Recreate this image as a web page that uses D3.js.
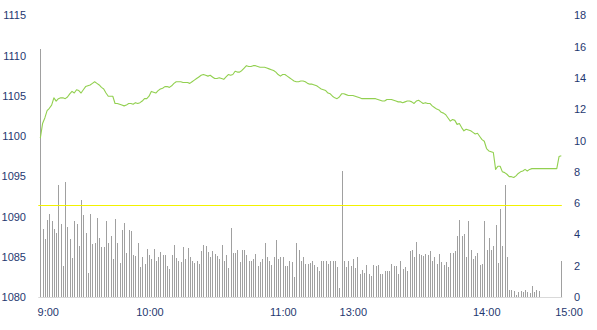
<!DOCTYPE html>
<html>
<head>
<meta charset="utf-8">
<script src="https://cdn.jsdelivr.net/npm/d3@7/dist/d3.min.js"></script>
<style>
  html, body { margin: 0; padding: 0; background: #ffffff; }
  svg { display: block; }
  text { font-family: "Liberation Sans", Arial, sans-serif; font-size: 11px; fill: #1f3870; }
</style>
</head>
<body>
<svg id="chart" width="597" height="330"></svg>
<script>
// ---- Data (one point / bar per minute index) ----
const price = [
1099.7,1101.5,1102.2,1103.1,1103.4,1103.8,1104.7,1104.3,1104.6,1104.7,
1104.7,1104.6,1104.8,1105.2,1105.5,1105.3,1105.7,1105.6,1105.3,1105.7,
1106.1,1106.2,1106.3,1106.5,1106.7,1106.5,1106.3,1106.0,1105.8,1105.3,
1104.9,1104.9,1104.9,1104.0,1104.0,1103.9,1103.8,1103.7,1103.8,1104.0,
1104.0,1103.9,1104.1,1104.0,1104.1,1104.3,1104.6,1104.6,1104.9,1105.5,
1105.4,1105.3,1105.6,1105.8,1105.9,1106.1,1106.1,1106.0,1106.2,1106.5,
1106.7,1106.7,1106.7,1106.6,1106.6,1106.6,1106.5,1106.7,1106.9,1107.1,
1107.3,1107.5,1107.6,1107.5,1107.4,1107.5,1107.3,1107.1,1107.1,1107.2,
1107.1,1107.0,1107.3,1107.6,1107.5,1107.6,1108.0,1107.9,1107.9,1108.1,
1108.4,1108.7,1108.6,1108.6,1108.7,1108.7,1108.6,1108.5,1108.5,1108.5,
1108.4,1108.3,1108.2,1108.1,1107.9,1107.6,1107.4,1107.6,1107.6,1107.4,
1107.2,1107.0,1106.8,1106.7,1106.7,1106.8,1106.8,1106.7,1106.5,1106.4,
1106.4,1106.3,1106.2,1106.0,1105.8,1105.7,1105.6,1105.3,1105.2,1104.9,
1104.7,1104.6,1104.8,1105.2,1105.2,1105.1,1105.0,1105.0,1105.0,1104.9,
1104.8,1104.7,1104.6,1104.6,1104.6,1104.6,1104.6,1104.6,1104.6,1104.5,
1104.4,1104.3,1104.3,1104.5,1104.5,1104.5,1104.4,1104.3,1104.2,1104.2,
1104.1,1104.2,1104.3,1104.3,1104.2,1104.0,1104.3,1104.4,1104.2,1104.0,
1104.1,1104.0,1104.0,1103.7,1103.5,1103.3,1103.2,1102.9,1102.8,1102.6,
1102.2,1101.8,1102.0,1101.9,1101.4,1101.5,1101.0,1100.6,1100.8,1100.7,
1100.6,1100.4,1100.2,1100.3,1099.9,1099.5,1099.3,1098.4,1098.1,1098.0,
1097.9,1095.8,1096.2,1096.2,1095.5,1095.4,1095.2,1094.9,1094.9,1094.8,
1095.0,1095.3,1095.5,1095.6,1095.8,1095.6,1095.8,1095.9,1095.9,1095.9,
1095.9,1095.9,1095.9,1095.9,1095.9,1095.9,1095.9,1095.9,1095.9,1097.4,
1097.5
];

const volume = [
15.8,4.3,3.7,4.9,5.3,4.85,4.3,4.05,7.15,4.65,
1.95,7.3,4.45,3.7,2.45,4.85,4.65,3.25,6.2,5.2,
4.05,1.5,5.3,3.35,3.45,5.0,3.75,3.15,3.15,4.85,
3.45,3.9,2.4,4.95,3.45,2.15,4.25,4.7,2.8,4.25,
4.2,2.65,2.6,3.45,1.9,2.55,2.1,3.05,2.65,2.4,
3.05,2.25,2.55,2.85,2.65,2.65,1.95,1.75,2.65,3.3,
2.45,2.25,2.2,3.15,2.4,3.1,2.5,2.3,2.15,2.3,
2.1,2.9,3.3,3.2,2.85,2.5,2.9,2.7,2.6,2.4,
3.3,2.3,2.65,1.8,4.4,2.8,2.8,3.0,2.2,3.0,
3.0,2.65,2.3,2.3,2.4,2.7,1.95,2.2,2.4,3.4,
2.5,2.3,2.0,2.5,3.6,2.4,2.5,2.5,1.95,1.95,
2.3,2.2,1.25,3.4,3.0,2.3,2.5,2.1,2.1,2.15,
2.3,2.0,1.9,1.6,2.3,2.3,2.3,2.1,2.3,2.3,
2.3,1.9,0.55,8.0,2.3,1.9,2.3,1.95,2.4,1.8,
2.5,1.45,1.7,1.5,2.0,1.45,1.3,2.0,1.95,2.0,
1.45,1.45,1.6,1.6,1.65,2.1,1.95,1.95,1.45,2.3,
1.75,1.9,1.6,2.9,3.0,2.5,3.5,2.7,2.65,2.6,
2.7,2.65,2.9,2.3,2.5,2.1,2.7,2.2,2.0,2.2,
1.9,2.8,2.8,2.9,3.9,4.9,3.9,4.0,2.5,4.85,
3.0,2.4,2.6,2.8,2.0,2.1,4.85,3.0,3.75,3.0,
3.2,4.6,2.15,5.6,3.25,7.1,2.5,0.42,0.42,0.35,
0.1,0.3,0.35,0.3,0.4,0.3,0.25,0.7,0.3,0.4,
0.35,0,0,0,0,0,0,0,0,0,
2.3
];

const refVolume = 5.85;   // pale yellow reference line on the right axis

const leftTicks = [1080, 1085, 1090, 1095, 1100, 1105, 1110, 1115];
const rightTicks = [0, 2, 4, 6, 8, 10, 12, 14, 16, 18];
const timeLabels = ["9:00", "10:00", "11:00", "13:00", "14:00", "15:00"];
const timeLabelIdx = [3.5, 48.4, 107.3, 138.2, 197.1, 233.4];

// ---- Layout ----
const svg = d3.select("#chart");
const plotTop = 15, plotBottom = 296.5;
const x = d3.scaleLinear().domain([0, price.length - 1]).range([40.3, 561.3]);
const yL = d3.scaleLinear().domain([1080, 1115]).range([plotBottom, plotTop]);
const yR = d3.scaleLinear().domain([0, 18]).range([plotBottom, plotTop]);

// baseline
svg.append("line")
  .attr("x1", x(0) - 2).attr("x2", x(price.length - 1) + 1)
  .attr("y1", Math.round(plotBottom) + 0.5).attr("y2", Math.round(plotBottom) + 0.5)
  .attr("stroke", "#d9d9d9").attr("stroke-width", 1);

// volume bars
svg.append("g").attr("shape-rendering", "crispEdges").selectAll("rect")
  .data(volume.map((v, i) => ({v, i})).filter(d => d.v > 0))
  .join("rect")
  .attr("x", d => Math.round(x(d.i)) - 0.5)
  .attr("width", 1)
  .attr("y", d => yR(d.v))
  .attr("height", d => plotBottom - yR(d.v))
  .attr("fill", "#a0a0a0");

// reference line
svg.append("line")
  .attr("x1", x(0) - 2).attr("x2", x(price.length - 1) + 0.5)
  .attr("y1", Math.round(yR(refVolume)) + 0.5).attr("y2", Math.round(yR(refVolume)) + 0.5)
  .attr("stroke", "#f2f200").attr("stroke-width", 1);

// price line
svg.append("path")
  .datum(price)
  .attr("fill", "none")
  .attr("stroke", "#92d050")
  .attr("stroke-width", 1.1)
  .attr("stroke-linejoin", "round")
  .attr("d", d3.line().x((d, i) => x(i)).y(d => yL(d)));

// left axis
const axL = svg.append("g").attr("transform", "translate(26,0)")
  .call(d3.axisLeft(yL).tickValues(leftTicks).tickSize(0).tickPadding(0).tickFormat(d3.format("d")));
axL.select(".domain").remove();
axL.selectAll("text").attr("dy", "0.36em");

// right axis
const axR = svg.append("g").attr("transform", "translate(574,0)")
  .call(d3.axisRight(yR).tickValues(rightTicks).tickSize(0).tickPadding(0).tickFormat(d3.format("d")));
axR.select(".domain").remove();
axR.selectAll("text").attr("dy", "0.36em");

// time labels
svg.append("g").selectAll("text")
  .data(timeLabels)
  .join("text")
  .attr("x", (d, i) => x(timeLabelIdx[i]))
  .attr("y", 316)
  .attr("text-anchor", "middle")
  .text(d => d);

// let the CSS font rules apply to axis text
svg.selectAll("g").attr("font-family", null).attr("font-size", null);
</script>
</body>
</html>
